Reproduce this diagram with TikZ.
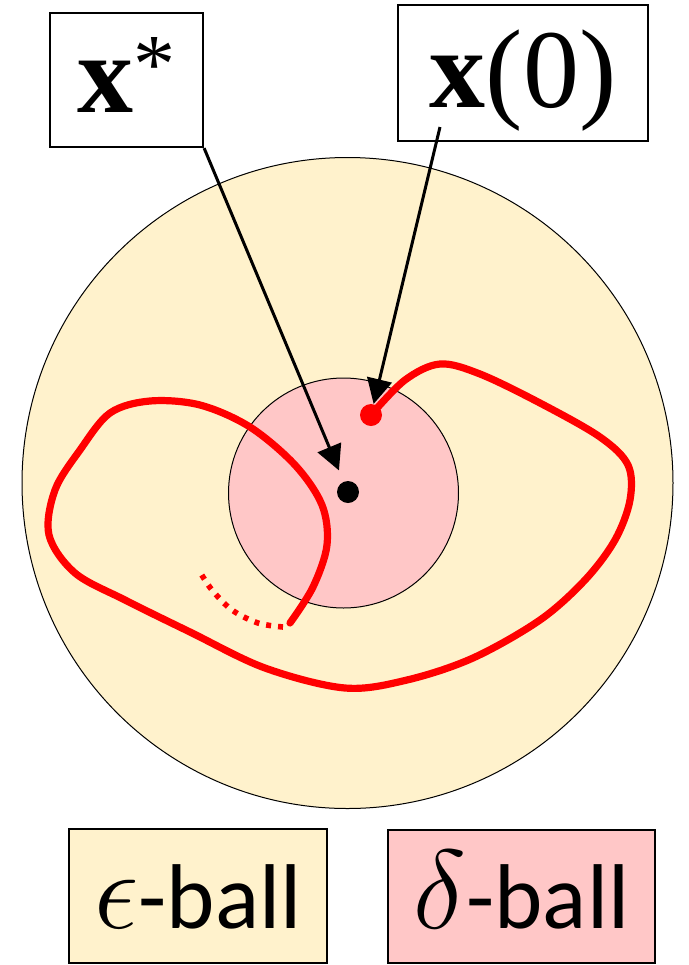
\RequirePackage{fix-cm}
\documentclass[tikz,border=0pt]{standalone}
\usepackage{fontspec}
\setsansfont{Carlito}
\newfontfamily\tnr{Liberation Serif}
\usetikzlibrary{arrows.meta,positioning,calc}
\definecolor{epsc}{HTML}{FFF2CC}
\definecolor{delc}{HTML}{FFC7C7}
\definecolor{trajc}{HTML}{FF0000}
\newcommand{\bigsym}[1]{{\fontsize{56}{56}\selectfont$#1$}}
\tikzset{
  >={Triangle[length=12.5pt,width=12.5pt]},
  lbl/.style={draw=black,line width=1.1pt,fill=white,inner sep=0pt,text depth=0pt,font=\tnr\fontsize{56}{56}\selectfont},
  key/.style={draw=black,line width=1pt,inner sep=0pt,text height=32pt,text depth=0pt,font=\sffamily\fontsize{46}{46}\selectfont},
  ball/.style={circle,draw=black,line width=0.5pt,inner sep=0pt},
  pt/.style={circle,inner sep=0pt,minimum size=11pt},
  ptr/.style={->,line width=1.5pt,draw=black},
  traj/.style={draw=trajc,line width=3.6pt,line cap=round},
  trajd/.style={draw=trajc,line width=2.8pt,dash pattern=on 2.5pt off 3.5pt},
}

\begin{document}
\begin{tikzpicture}[x=0.5pt,y=-0.5pt]
  \useasboundingbox (0,0) rectangle (689,965);
  % balls
  \node[ball,fill=epsc,minimum size=325.5pt] (eball) at (347.5,483) {};
  \node[ball,fill=delc,minimum size=115pt] (dball) at (343.5,493) {};
  % trajectory
  \node[pt] (init) at (371,415) {};
  \draw[traj] plot[smooth,tension=0.55] coordinates {(init.center) (405,380) (440,364) (480,374)
    (540,403) (600,437) (628,465) (630,500) (615,540) (585,580) (540,620) (473,658) (407,680)
    (345,688) (265,668) (190,632) (125,600) (75,573) (49,535) (55,490) (80,450) (110,413)
    (150,401) (200,405) (250,427) (295,465) (322,505) (327,545) (313,587) (290,623)};
  \draw[trajd] plot[smooth,tension=0.55] coordinates {(283,627) (258,623) (232,610) (212,590) (200,572)};
  \node[pt,fill=trajc] at (init) {};
  \node[pt,fill=black] (eq) at (348,492) {};
  % labels
  \node[lbl,text height=32pt,minimum width=76.5pt,minimum height=67pt] (xstar) at (126.5,80) {\textbf{x}\raisebox{0.17em}{\fontsize{42}{42}\selectfont *}};
  \node[lbl,text height=34pt,minimum width=125pt,minimum height=68pt] (xzero) at (523,73) {\textbf{x}(0)};
  \coordinate (x0tail) at (440,127);
  \draw[ptr,shorten >=6pt] (xstar.south east) -- (eq);
  \draw[ptr] (x0tail) -- (init);
  % legend
  \node[key,fill=epsc,minimum width=129pt,minimum height=67pt] (ekey) at (198,896) {\bigsym{\epsilon}-ball};
  \node[key,fill=delc,minimum width=133.5pt,minimum height=66.5pt] (dkey) at (521.5,896.5) {\bigsym{\delta}-ball};
\end{tikzpicture}
\end{document}
